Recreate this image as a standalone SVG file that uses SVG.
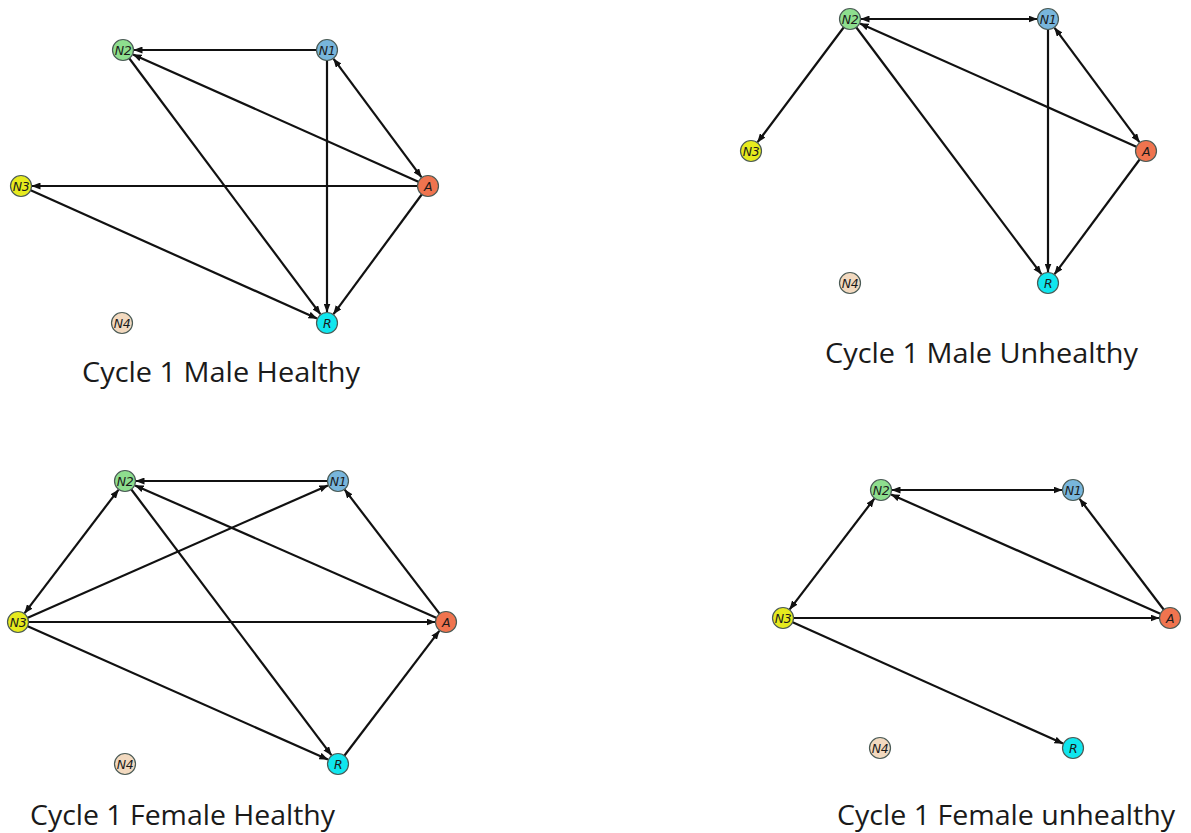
<svg xmlns="http://www.w3.org/2000/svg" width="1191" height="833" viewBox="0 0 1191 833">
<style>
.bg{fill:#ffffff}
.e{stroke:#111;stroke-width:2.2;fill:none;marker-end:url(#ah)}
.b{marker-start:url(#ah)}
.n circle{stroke:#4a5a55;stroke-width:1.2}
.n text{font-family:"DejaVu Sans",sans-serif;font-style:italic;font-size:12.5px;fill:#1a1a1a;text-anchor:middle;dominant-baseline:central;letter-spacing:-0.5px}
.N1 circle{fill:#78b6dc}
.N2 circle{fill:#8ede8e}
.N3 circle{fill:#e6ea1e}
.N4 circle{fill:#f2d9bf}
.A circle{fill:#f0744f}
.R circle{fill:#10e6ee}
.cap{font-family:"Open Sans","Liberation Sans",sans-serif;font-size:27px;fill:#1a1a1a}
</style>
<defs>
<marker id="ah" markerUnits="userSpaceOnUse" markerWidth="9" markerHeight="7" refX="8.5" refY="3.5" orient="auto-start-reverse">
<path d="M0,0 L9,3.5 L0,7 z" fill="#111"/>
</marker>
</defs>
<rect class="bg" x="0" y="0" width="1191" height="833"/>

<g id="connectors">
<!-- Panel 1: Male Healthy -->
<line class="e" x1="317" y1="50" x2="134" y2="50"/>
<line class="e b" x1="333.6" y1="58.8" x2="421.4" y2="177.2"/>
<line class="e" x1="418.9" y1="181.9" x2="133" y2="54.5"/>
<line class="e" x1="129" y1="58" x2="320.4" y2="314.2"/>
<line class="e" x1="327" y1="60" x2="327" y2="312"/>
<line class="e" x1="422.1" y1="194" x2="333.5" y2="314.1"/>
<line class="e" x1="418" y1="186" x2="32" y2="186"/>
<line class="e" x1="30.1" y1="190.1" x2="317" y2="318.5"/>
<!-- Panel 2: Male Unhealthy -->
<line class="e b" x1="861" y1="19" x2="1037" y2="19"/>
<line class="e" x1="1136.9" y1="146.9" x2="860" y2="23.5"/>
<line class="e b" x1="1054.6" y1="27.8" x2="1139.4" y2="142.2"/>
<line class="e" x1="844" y1="27" x2="757.6" y2="142.2"/>
<line class="e" x1="856" y1="27" x2="1041.4" y2="274.2"/>
<line class="e" x1="1048" y1="29" x2="1048" y2="272"/>
<line class="e" x1="1140" y1="159" x2="1054.6" y2="274.2"/>
<!-- Panel 3: Female Healthy -->
<line class="e" x1="328" y1="481" x2="136" y2="481"/>
<line class="e b" x1="24.6" y1="613.2" x2="118.4" y2="489.8"/>
<line class="e" x1="27.2" y1="618" x2="327.9" y2="485.4"/>
<line class="e" x1="436.8" y1="618" x2="135.1" y2="485.4"/>
<line class="e" x1="439.9" y1="614.1" x2="344.7" y2="489.7"/>
<line class="e" x1="28" y1="622" x2="435" y2="622"/>
<line class="e" x1="27.1" y1="626.1" x2="327.9" y2="759.5"/>
<line class="e" x1="131" y1="489" x2="331.4" y2="755.2"/>
<line class="e" x1="344.1" y1="756" x2="439.3" y2="630.8"/>
<!-- Panel 4: Female unhealthy -->
<line class="e b" x1="892" y1="490" x2="1062" y2="490"/>
<line class="e" x1="1160.9" y1="614" x2="891.1" y2="494.5"/>
<line class="e" x1="1164" y1="610" x2="1079.6" y2="498.8"/>
<line class="e b" x1="874.3" y1="498.7" x2="789.7" y2="609.3"/>
<line class="e" x1="794" y1="618" x2="1159" y2="618"/>
<line class="e" x1="792.1" y1="622.1" x2="1063" y2="743.5"/>
</g>

<!-- Panel 1 nodes -->
<g id="p1-N2" class="n N2"><circle cx="123" cy="50" r="10.5"/><text x="123" y="50">N2</text></g>
<g id="p1-N1" class="n N1"><circle cx="327" cy="50" r="10.5"/><text x="327" y="50">N1</text></g>
<g id="p1-A" class="n A"><circle cx="428" cy="186" r="10.5"/><text x="428" y="186">A</text></g>
<g id="p1-N3" class="n N3"><circle cx="21" cy="186" r="10.5"/><text x="21" y="186">N3</text></g>
<g id="p1-N4" class="n N4"><circle cx="122" cy="323" r="10.5"/><text x="122" y="323">N4</text></g>
<g id="p1-R" class="n R"><circle cx="327" cy="323" r="10.5"/><text x="327" y="323">R</text></g>

<!-- Panel 2 nodes -->
<g id="p2-N2" class="n N2"><circle cx="850" cy="19" r="10.5"/><text x="850" y="19">N2</text></g>
<g id="p2-N1" class="n N1"><circle cx="1048" cy="19" r="10.5"/><text x="1048" y="19">N1</text></g>
<g id="p2-N3" class="n N3"><circle cx="751" cy="151" r="10.5"/><text x="751" y="151">N3</text></g>
<g id="p2-A" class="n A"><circle cx="1146" cy="151" r="10.5"/><text x="1146" y="151">A</text></g>
<g id="p2-N4" class="n N4"><circle cx="850" cy="283" r="10.5"/><text x="850" y="283">N4</text></g>
<g id="p2-R" class="n R"><circle cx="1048" cy="283" r="10.5"/><text x="1048" y="283">R</text></g>

<!-- Panel 3 nodes -->
<g id="p3-N2" class="n N2"><circle cx="125" cy="481" r="10.5"/><text x="125" y="481">N2</text></g>
<g id="p3-N1" class="n N1"><circle cx="338" cy="481" r="10.5"/><text x="338" y="481">N1</text></g>
<g id="p3-N3" class="n N3"><circle cx="18" cy="622" r="10.5"/><text x="18" y="622">N3</text></g>
<g id="p3-A" class="n A"><circle cx="446" cy="622" r="10.5"/><text x="446" y="622">A</text></g>
<g id="p3-N4" class="n N4"><circle cx="125" cy="764" r="10.5"/><text x="125" y="764">N4</text></g>
<g id="p3-R" class="n R"><circle cx="338" cy="764" r="10.5"/><text x="338" y="764">R</text></g>

<!-- Panel 4 nodes -->
<g id="p4-N2" class="n N2"><circle cx="881" cy="490" r="10.5"/><text x="881" y="490">N2</text></g>
<g id="p4-N1" class="n N1"><circle cx="1073" cy="490" r="10.5"/><text x="1073" y="490">N1</text></g>
<g id="p4-N3" class="n N3"><circle cx="783" cy="618" r="10.5"/><text x="783" y="618">N3</text></g>
<g id="p4-A" class="n A"><circle cx="1170" cy="618" r="10.5"/><text x="1170" y="618">A</text></g>
<g id="p4-N4" class="n N4"><circle cx="880" cy="748" r="10.5"/><text x="880" y="748">N4</text></g>
<g id="p4-R" class="n R"><circle cx="1073" cy="748" r="10.5"/><text x="1073" y="748">R</text></g>

<g id="captions">
<text class="cap" x="82" y="382" textLength="278" lengthAdjust="spacingAndGlyphs">Cycle 1 Male Healthy</text>
<text class="cap" x="825" y="363" textLength="313" lengthAdjust="spacingAndGlyphs">Cycle 1 Male Unhealthy</text>
<text class="cap" x="30" y="825" textLength="305" lengthAdjust="spacingAndGlyphs">Cycle 1 Female Healthy</text>
<text class="cap" x="837" y="825" textLength="338" lengthAdjust="spacingAndGlyphs">Cycle 1 Female unhealthy</text>
</g>
</svg>
